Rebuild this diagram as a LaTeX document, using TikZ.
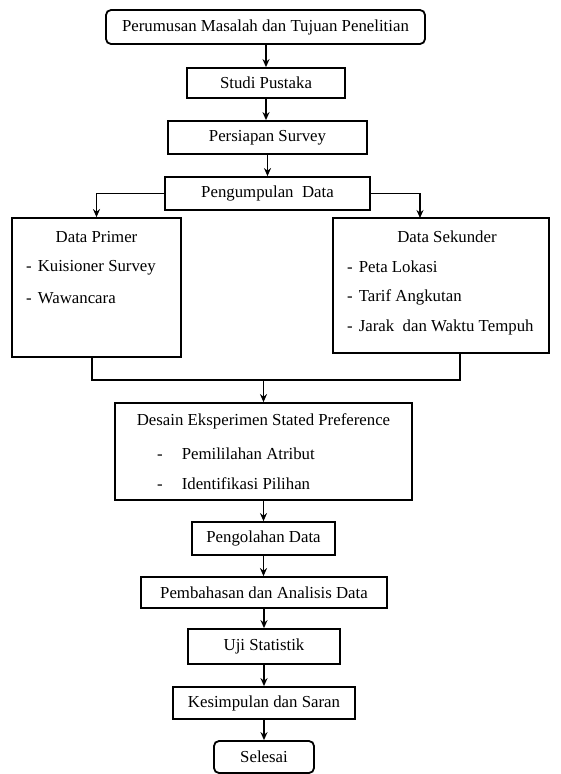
\documentclass[tikz,border=0pt]{standalone}
\usepackage{fontspec}
\setmainfont{Liberation Serif}
\usetikzlibrary{arrows.meta}
\begin{document}
\begin{tikzpicture}[x=1pt,y=-1pt,
  box/.style={draw, line width=1.8pt, inner sep=0pt, align=center, font=\fontsize{16.8}{20}\selectfont, fill=white},
  rbox/.style={box, rounded corners=5pt},
  txt/.style={inner sep=0pt, font=\fontsize{16.8}{20}\selectfont},
  arr/.style={line width=1.6pt, -{Stealth[length=8pt,width=7pt]}},
  ln/.style={line width=1.6pt}]
\useasboundingbox (0,0) rectangle (560,774);
\node[rbox, minimum width=319pt, minimum height=34pt] (top) at (265.5,27) {Perumusan Masalah dan Tujuan Penelitian};
\node[box, minimum width=158pt, minimum height=30pt] (studi) at (266,83) {Studi Pustaka};
\node[box, minimum width=199pt, minimum height=33pt] (persiapan) at (267.5,137.5) {Persiapan Survey};
\node[box, minimum width=205pt, minimum height=33pt] (kumpul) at (267.5,193.5) {Pengumpulan\ \ Data};
\node[box, minimum width=169pt, minimum height=139pt] (primer) at (96.5,287.5) {};
\node[box, minimum width=216pt, minimum height=135pt] (sekunder) at (441,285.5) {};
\node[box, minimum width=297pt, minimum height=97pt] (desain) at (263.5,451.5) {};
\node[box, minimum width=143pt, minimum height=33pt] (olah) at (263.5,538.5) {Pengolahan Data};
\node[box, minimum width=246pt, minimum height=31pt] (bahas) at (264,592.5) {Pembahasan dan Analisis Data};
\node[box, minimum width=152pt, minimum height=35pt] (uji) at (264,646.5) {Uji Statistik};
\node[box, minimum width=182pt, minimum height=32pt] (simpul) at (264,703) {Kesimpulan dan Saran};
\node[rbox, minimum width=100pt, minimum height=32pt] (selesai) at (264,757) {Selesai};
% texts inside big boxes
\node[txt] (pt) at (96.5,237) {Data Primer};
\node[txt, anchor=west] (p1) at (26,268) {-\hspace{6pt}Kuisioner Survey};
\node[txt, anchor=west] (p2) at (26,298) {-\hspace{6pt}Wawancara};
\node[txt] (st) at (447,237) {Data Sekunder};
\node[txt, anchor=west] (s1) at (347,267) {-\hspace{6pt}Peta Lokasi};
\node[txt, anchor=west] (s2) at (347,297) {-\hspace{6pt}Tarif Angkutan};
\node[txt, anchor=west] (s3) at (347,327) {-\hspace{6pt}Jarak\ \ dan Waktu Tempuh};
\node[txt] (dt) at (263.5,421) {Desain Eksperimen Stated Preference};
\node[txt, anchor=west] (d1) at (157,454) {-\hspace{19pt}Pemililahan Atribut};
\node[txt, anchor=west] (d2) at (157,484) {-\hspace{19pt}Identifikasi Pilihan};
% connectors
\draw[arr] (studi.north |- top.south) -- (studi.north);
\draw[arr] (studi.south) -- (studi.south |- persiapan.north);
\draw[arr] (persiapan.south) -- (persiapan.south |- kumpul.north);
\draw[arr] (kumpul.west) -| (primer.north);
\coordinate (sn) at (420,218);
\draw[arr] (kumpul.east) -| (sn);
\coordinate (jl) at (92,380);
\coordinate (jr) at (460,380);
\draw[ln] (primer.south -| jl) -- (jl) -- (jr) -- (sekunder.south -| jr);
\draw[arr] (desain.north |- jl) -- (desain.north);
\draw[arr] (desain.south) -- (desain.south |- olah.north);
\draw[arr] (olah.south) -- (olah.south |- bahas.north);
\draw[arr] (bahas.south) -- (bahas.south |- uji.north);
\draw[arr] (uji.south) -- (uji.south |- simpul.north);
\draw[arr] (simpul.south) -- (simpul.south |- selesai.north);
\end{tikzpicture}
\end{document}
